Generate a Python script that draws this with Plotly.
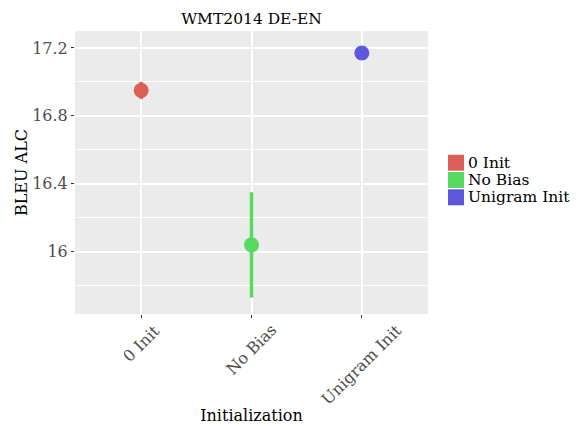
import plotly.graph_objects as go

categories = ["0 Init", "No Bias", "Unigram Init"]
bleu = [16.95, 16.04, 17.17]
err = [0.05, 0.31, 0.0]
colors = ["#db5f57", "#57db5f", "#5f57db"]
y_ticks = [16.0, 16.4, 16.8, 17.2]
y_tick_labels = ["16", "16.4", "16.8", "17.2"]

FONT = "DejaVu Serif"
fig = go.Figure()
for c, v, e, col in zip(categories, bleu, err, colors):
    fig.add_trace(go.Scatter(
        x=[c], y=[v], mode="markers", name=c,
        marker=dict(color=col, size=15, line=dict(width=0)),
        error_y=dict(type="data", array=[e], visible=e > 0, color=col, thickness=3.5, width=0),
        showlegend=False, hoverinfo="skip"))

# rotated category labels centred on their ticks (ggplot style)
for c in categories:
    fig.add_annotation(text=c, xref="x", yref="paper", x=c, y=0, yshift=-4,
                       xanchor="center", yanchor="top", textangle=-45, showarrow=False,
                       font=dict(family=FONT, size=16, color="#4d4d4d"))

# ggplot-style legend keys (contiguous squares) built from the category list
LEG_Y = 0.5346
STEP = 17.3
for i, (c, col) in enumerate(zip(categories, colors)):
    fig.add_shape(type="rect", xref="paper", yref="paper",
                  xsizemode="pixel", ysizemode="pixel",
                  xanchor=1.0, yanchor=LEG_Y,
                  x0=20, x1=36, y0=-STEP * i - 8, y1=-STEP * i + 8,
                  fillcolor=col, line=dict(width=0))
    fig.add_annotation(text=c, xref="paper", yref="paper", x=1.0, y=LEG_Y,
                       xshift=38, yshift=-STEP * i, xanchor="left", yanchor="middle",
                       showarrow=False, font=dict(family=FONT, size=15.5, color="black"))

fig.update_layout(
    width=572, height=418,
    margin=dict(l=67, r=152, t=23, b=112, autoexpand=False),
    paper_bgcolor="white", plot_bgcolor="#ebebeb",
    font=dict(family=FONT, size=16, color="black"),
    title=dict(text="WMT2014 DE-EN", x=0.5, xref="paper", xanchor="center",
               y=1, yref="container", yanchor="top", pad=dict(t=5),
               font=dict(family=FONT, size=15.5, color="black")),
    showlegend=False,
)
fig.update_xaxes(
    type="category", categoryorder="array", categoryarray=categories,
    range=[-0.6, 2.6], automargin=False, showticklabels=False,
    showgrid=True, gridcolor="white", gridwidth=1.5, zeroline=False,
    ticks="outside", ticklen=3, tickcolor="#333333",
    title=dict(text="Initialization", font=dict(family=FONT, size=16, color="black"), standoff=92),
)
fig.update_yaxes(
    range=[15.633, 17.3], tickvals=y_ticks, ticktext=y_tick_labels, automargin=False,
    showgrid=True, gridcolor="white", gridwidth=1.5, zeroline=False,
    ticks="outside", ticklen=3, tickcolor="#333333",
    tickfont=dict(family=FONT, size=16, color="#4d4d4d"),
    minor=dict(tickvals=[15.8, 16.2, 16.6, 17.0], showgrid=True, gridcolor="white", gridwidth=0.7, ticks=""),
    title=dict(text="BLEU ALC", font=dict(family=FONT, size=16, color="black"), standoff=0),
)
fig.write_html("out.html")
